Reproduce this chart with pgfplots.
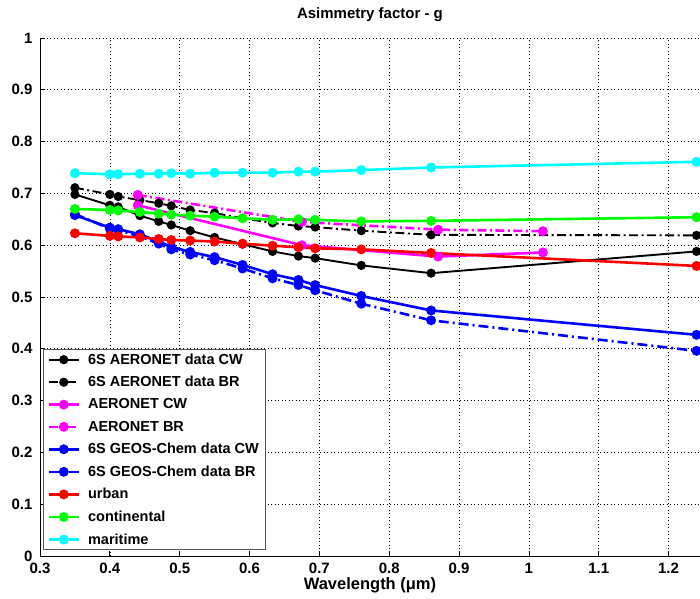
\documentclass[border=0pt]{standalone}
\usepackage{pgfplots}
\usepackage{pgfplotstable}
\usepackage{fontspec}
\setmainfont{Liberation Sans}
\pgfplotsset{compat=1.18}

\pgfplotstableread{
lam   aCW    aBR    gCW    gBR    urb    cont   mar
0.35  0.698  0.711  0.658  0.660  0.623  0.670  0.739
0.40  0.677  0.698  0.634  0.632  0.618  0.668  0.737
0.412 0.674  0.694  0.631  0.629  0.617  0.667  0.737
0.443 0.657  0.687  0.621  0.617  0.615  0.664  0.738
0.47  0.646  0.681  0.607  0.603  0.612  0.661  0.738
0.488 0.639  0.676  0.597  0.592  0.610  0.659  0.739
0.515 0.628  0.668  0.587  0.582  0.609  0.657  0.738
0.55  0.615  0.662  0.577  0.571  0.607  0.655  0.740
0.59  0.602  0.652  0.562  0.555  0.603  0.652  0.740
0.633 0.588  0.643  0.544  0.536  0.599  0.649  0.740
0.67  0.579  0.637  0.533  0.523  0.596  0.650  0.742
0.694 0.575  0.635  0.523  0.513  0.594  0.649  0.742
0.76  0.561  0.628  0.502  0.487  0.592  0.646  0.745
0.86  0.546  0.620  0.474  0.455  0.585  0.647  0.750
1.24  0.588  0.619  0.427  0.396  0.560  0.654  0.761
}\sixs

\pgfplotstableread{
lam   cw     br
0.44  0.677  0.697
0.675 0.600  0.645
0.87  0.578  0.630
1.02  0.586  0.627
}\aeronet

\definecolor{mag}{rgb}{1,0,1}
\definecolor{grn}{rgb}{0,1,0}
\definecolor{cyn}{rgb}{0,1,1}

\begin{document}
\begin{tikzpicture}
\begin{axis}[
  scale only axis,
  width=660bp, height=518bp,
  xmin=0.3, xmax=1.245, ymin=0, ymax=1,
  axis x line=bottom, axis y line=left,
  axis line style={-, line width=0.9bp},
  xtick={0.3,0.4,0.5,0.6,0.7,0.8,0.9,1,1.1,1.2},
  ytick={0,0.1,0.2,0.3,0.4,0.5,0.6,0.7,0.8,0.9,1},
  tick align=inside, major tick length=5bp,
  tick style={black, line width=0.7bp},
  grid=major,
  grid style={black, line width=0.6bp, dash pattern=on 1bp off 2.5bp},
  /pgf/number format/assume math mode=true,
  ticklabel style={font=\bfseries\fontsize{15bp}{17bp}\selectfont},
  xticklabel style={yshift=-4bp},
  yticklabel style={xshift=-4bp},
  title={Asimmetry factor - g},
  title style={font=\bfseries\fontsize{15bp}{17bp}\selectfont, yshift=7bp},
  xlabel={Wavelength (μm)},
  xlabel style={font=\bfseries\fontsize{16.5bp}{18bp}\selectfont, yshift=3bp},
  legend style={at={(0.005,0.012)}, anchor=south west, draw=black!65,
    font=\bfseries\fontsize{14.5bp}{16bp}\selectfont, row sep=6.6bp, column sep=6bp,
    inner xsep=4bp, inner ysep=2bp},
  legend cell align=left,
  legend image code/.code={\draw[mark repeat=2,mark phase=2] plot coordinates {(0bp,0bp) (15bp,0bp) (30bp,0bp)};},
  every axis plot/.append style={mark=*, mark options={solid}},
]
\addplot[black, line width=1.9bp, mark size=3.6bp] table[x=lam,y=aCW] {\sixs};
\addlegendentry{6S AERONET data CW}
\addplot[black, line width=1.9bp, mark size=3.6bp, dash pattern=on 9bp off 3.5bp on 2bp off 3.5bp] table[x=lam,y=aBR] {\sixs};
\addlegendentry{6S AERONET data BR}
\addplot[mag, line width=2.6bp, mark size=3.6bp] table[x=lam,y=cw] {\aeronet};
\addlegendentry{AERONET CW}
\addplot[mag, line width=2.6bp, mark size=3.6bp, dash pattern=on 9bp off 3.5bp on 2bp off 3.5bp] table[x=lam,y=br] {\aeronet};
\addlegendentry{AERONET BR}
\addplot[blue, line width=2.6bp, mark size=3.6bp] table[x=lam,y=gCW] {\sixs};
\addlegendentry{6S GEOS-Chem data CW}
\addplot[blue, line width=2.6bp, mark size=3.6bp, dash pattern=on 10bp off 4bp on 2bp off 4bp] table[x=lam,y=gBR] {\sixs};
\addlegendentry{6S GEOS-Chem data BR}
\addplot[red, line width=2.6bp, mark size=3.6bp] table[x=lam,y=urb] {\sixs};
\addlegendentry{urban}
\addplot[grn, line width=2.6bp, mark size=3.6bp] table[x=lam,y=cont] {\sixs};
\addlegendentry{continental}
\addplot[cyn, line width=2.6bp, mark size=3.6bp] table[x=lam,y=mar] {\sixs};
\addlegendentry{maritime}
\end{axis}
\pgfresetboundingbox
\path (-40bp,-43bp) rectangle (660bp,556bp);
\end{tikzpicture}
\end{document}
